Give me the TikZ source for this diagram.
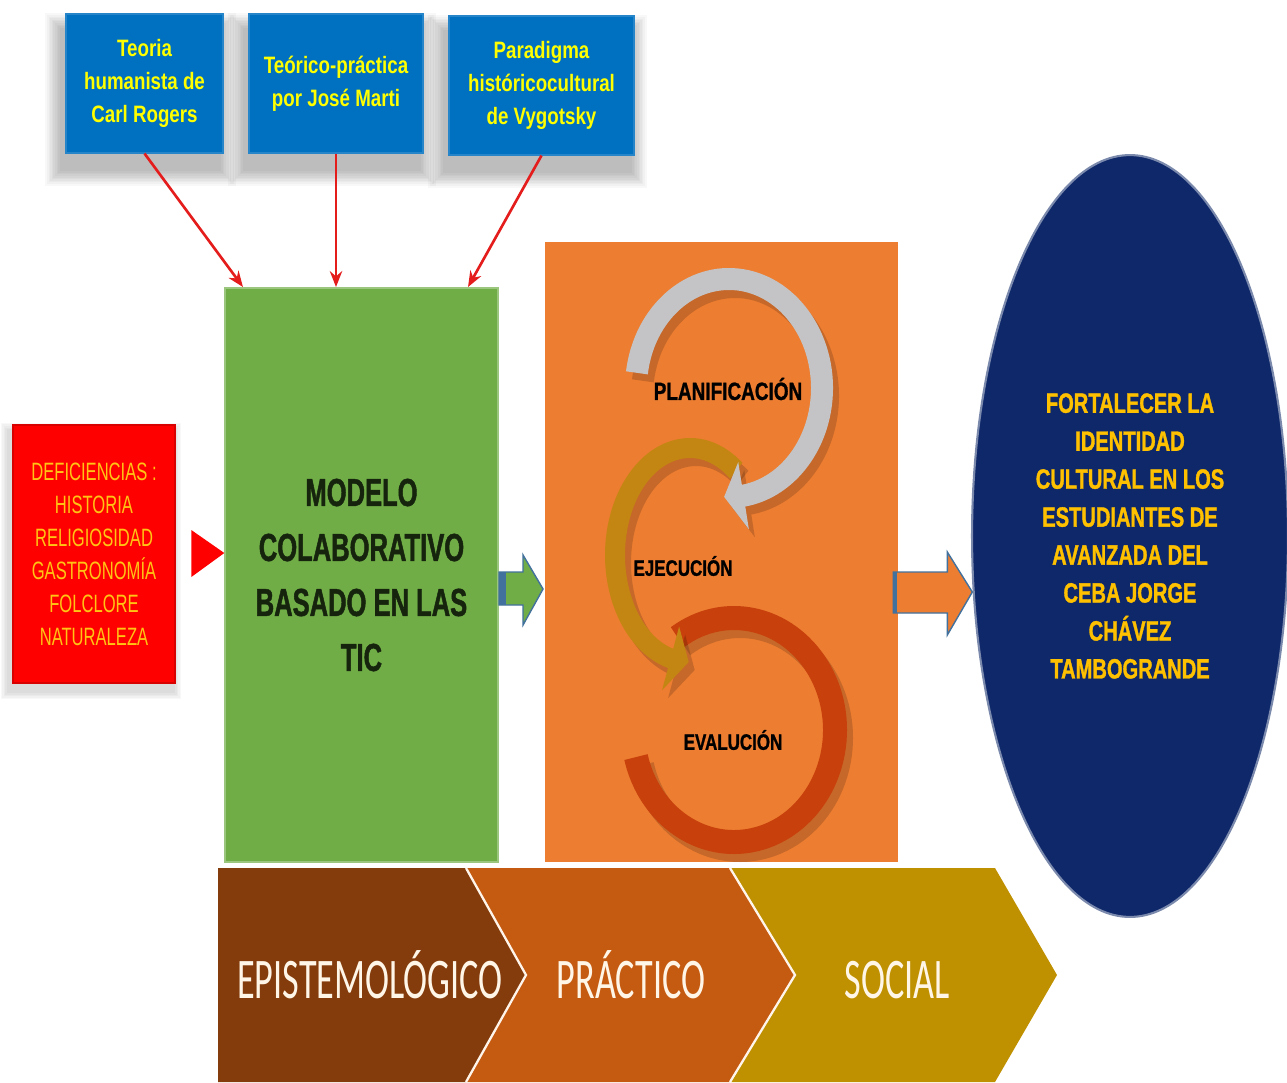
\documentclass[tikz,border=0pt]{standalone}
\usepackage{fontspec}
\setmainfont{Liberation Sans}
\newfontfamily\fBlue{Liberation Sans}[FakeStretch=0.79]
\newfontfamily\fRed{Liberation Sans}[FakeStretch=0.66]
\newfontfamily\fGreen{Liberation Sans}[FakeStretch=0.655,FakeBold=1.2]
\newfontfamily\fPanel{Liberation Sans}[FakeStretch=0.76,FakeBold=1]
\newfontfamily\fEll{Liberation Sans}[FakeStretch=0.72,FakeBold=1.2]
\newfontfamily\fChev{Carlito}[FakeStretch=0.63]
\usetikzlibrary{shapes.geometric,arrows.meta,calc,backgrounds}

\definecolor{bluebox}{RGB}{0,112,192}
\definecolor{txtyellow}{RGB}{255,255,0}
\definecolor{redbox}{RGB}{255,0,0}
\definecolor{redtxt}{RGB}{255,196,20}
\definecolor{greenbox}{RGB}{112,173,71}
\definecolor{greentxt}{RGB}{22,36,14}
\definecolor{orangebox}{RGB}{237,125,49}
\definecolor{ellnavy}{RGB}{14,40,105}
\definecolor{elltxt}{RGB}{255,192,0}
\definecolor{chevA}{RGB}{132,60,12}
\definecolor{chevB}{RGB}{197,90,17}
\definecolor{chevC}{RGB}{191,144,0}
\definecolor{arrowred}{RGB}{228,28,28}
\definecolor{outlineblue}{RGB}{65,113,156}
\definecolor{ringgray}{RGB}{196,196,198}
\definecolor{ringgold}{RGB}{196,134,18}
\definecolor{ringred}{RGB}{200,64,12}
\definecolor{chevtxt}{RGB}{255,246,232}

% curved block arrow centred at the origin of the current scope
% #1 rx, #2 ry, #3 half width, #4 start angle, #5 end angle, #6 head half width, #7 tip angle offset, #8 style
\newcommand\ringarrow[8]{%
 \fill[#8] ({(#1+#3)*cos(#4)},{(#2+#3)*sin(#4)})
   arc[start angle=#4,end angle=#5,x radius={#1+#3},y radius={#2+#3}]
   -- ({(#1+#6)*cos(#5)},{(#2+#6)*sin(#5)})
   -- ({#1*cos(#5+#7)},{#2*sin(#5+#7)})
   -- ({(#1-#6)*cos(#5)},{(#2-#6)*sin(#5)})
   -- ({(#1-#3)*cos(#5)},{(#2-#3)*sin(#5)})
   arc[start angle=#5,end angle=#4,x radius={#1-#3},y radius={#2-#3}]
   -- cycle;}

% soft shadow: #1 node, #2 x shift, #3 y shift (down), #4 number of layers
\newcommand\softshadow[4]{%
 \foreach \k in {1,...,#4}{%
  \fill[black,opacity=0.028] ($(#1.south west)+(#2-\k*1.6,#3+\k*1.6)$) rectangle ($(#1.north east)+(#2+\k*1.6,#3-\k*1.6)$);}}

\begin{document}
\begin{tikzpicture}[x=0.02cm,y=-0.02cm,
  topbox/.style={rectangle, fill=bluebox, draw=bluebox!85!white, line width=0.6pt,
     minimum height=2.78cm, inner sep=0pt, text=txtyellow, align=center,
     font=\fBlue\bfseries\fontsize{13.5}{19}\selectfont},
  defbox/.style={rectangle, fill=redbox, draw=redbox!85!black, line width=1.5pt,
     minimum width=3.24cm, minimum height=5.16cm, inner sep=0pt, text=redtxt, align=center,
     font=\fRed\fontsize{14.3}{18.8}\selectfont},
  modelbox/.style={rectangle, fill=greenbox, draw=greenbox!70!white, line width=1.2pt,
     minimum width=5.46cm, minimum height=11.48cm, inner sep=0pt, text=greentxt, align=center,
     font=\fGreen\bfseries\fontsize{22.2}{31.3}\selectfont},
  panelbox/.style={rectangle, fill=orangebox, draw=none,
     minimum width=7.06cm, minimum height=12.4cm, inner sep=0pt},
  phaselabel/.style={text=black, inner sep=0pt, font=\fPanel\bfseries\fontsize{12.7}{14}\selectfont},
  goalell/.style={ellipse, fill=ellnavy, draw=ellnavy!55!white, line width=1.2pt,
     minimum width=6.32cm, minimum height=15.24cm, inner sep=0pt, text=elltxt, align=center,
     font=\fEll\bfseries\fontsize{15.9}{21.6}\selectfont},
  chevlabel/.style={text=chevtxt, inner sep=0pt, font=\fChev\fontsize{32.7}{36}\selectfont},
  redarrow/.style={draw=arrowred, line width=1.5pt, -{Stealth[length=9pt,width=7pt]}},
  sep/.style={draw=white!92!orange, line width=1.3pt}]

\useasboundingbox (0,0) rectangle (1287,1082);

% ---------- top boxes ----------
\node[topbox, minimum width=3.14cm] (b1) at (144.5,83.5) {Teoria\\humanista de\\Carl Rogers};
\node[topbox, minimum width=3.48cm] (b2) at (336,83.5) {Teórico-práctica\\por José Marti};
\node[topbox, minimum width=3.70cm] (b3) at (541.5,85.5) {Paradigma\\históricocultural\\de Vygotsky};

% ---------- main boxes ----------
\node[defbox] (r) at (94,554) {DEFICIENCIAS :\\HISTORIA\\RELIGIOSIDAD\\GASTRONOMÍA\\FOLCLORE\\NATURALEZA};
\node[modelbox] (g) at (361.5,575) {MODELO\\COLABORATIVO\\BASADO EN LAS\\TIC};
\node[panelbox] (o) at (721.5,552) {};
\node[goalell] (e) at (1130,536) {FORTALECER LA\\IDENTIDAD\\CULTURAL EN LOS\\ESTUDIANTES DE\\AVANZADA DEL\\CEBA JORGE\\CHÁVEZ\\TAMBOGRANDE};

% ---------- cycle arrows inside the panel ----------
\begin{scope}[shift={(740,738)}]
  \ringarrow{101}{112}{12}{-124}{166}{12}{0}{black,opacity=0.16}
\end{scope}
\begin{scope}[shift={(734,730)}]
  \ringarrow{101}{112}{12}{-124}{166}{12}{0}{ringred}
\end{scope}
\begin{scope}[shift={(696,563)}]
  \ringarrow{75}{107}{10}{-52}{-255}{33}{-14}{black,opacity=0.16}
\end{scope}
\begin{scope}[shift={(690,555)}]
  \ringarrow{75}{107}{10}{-52}{-255}{33}{-14}{ringgold}
\end{scope}
\begin{scope}[shift={(735,396)}]
  \ringarrow{93}{109}{11}{188}{441}{34}{12}{black,opacity=0.16}
\end{scope}
\begin{scope}[shift={(729,388)}]
  \ringarrow{93}{109}{11}{188}{441}{34}{12}{ringgray}
\end{scope}

\node[phaselabel, font=\fPanel\bfseries\fontsize{14.2}{16}\selectfont] (pl) at (728,389) {PLANIFICACIÓN};
\node[phaselabel] (ej) at (683,566) {EJECUCIÓN};
\node[phaselabel] (ev) at (733,740) {EVALUCIÓN};

% ---------- connectors ----------
\draw[redarrow] (b1.south) -- ($(g.north west)+(19,0)$);
\draw[redarrow] (b2.south) -- (b2.south |- g.north);
\draw[redarrow] (b3.south) -- ($(g.north east)+(-31,0)$);

% red triangle from deficiencies to model
\fill[redbox] ($(r.east)+(15,-24)$) -- ($(r.east)+(48,-1)$) -- ($(r.east)+(15,23)$) -- cycle;

% green block arrow from model to panel
\begin{scope}[shift={(g.east)}]
  \filldraw[fill=greenbox, draw=outlineblue, line width=0.8pt]
    (0,-3) -- (24,-3) -- (24,-20) -- (44,14) -- (24,50) -- (24,30) -- (0,30) -- cycle;
  \fill[outlineblue] (0,-3) rectangle (7,30);
\end{scope}

% orange block arrow from panel to goal
\begin{scope}[shift={(o.east)}]
  \filldraw[fill=orangebox, draw=outlineblue, line width=0.8pt]
    (-5,20) -- (49,20) -- (49,0) -- (74,40) -- (49,83) -- (49,61) -- (-5,61) -- cycle;
  \fill[outlineblue] (-5,20) rectangle (-1,61);
\end{scope}

% ---------- chevrons ----------
\fill[chevA] (218,868) -- (466,868) -- (526,975) -- (466,1082) -- (218,1082) -- cycle;
\fill[chevB] (466,868) -- (730,868) -- (795,975) -- (730,1082) -- (466,1082) -- (526,975) -- cycle;
\fill[chevC] (731,868) -- (995,868) -- (1057,975) -- (995,1082) -- (731,1082) -- (795,975) -- cycle;
\draw[sep] (466,868) -- (526,975) -- (466,1082);
\draw[sep] (730,868) -- (795,975) -- (730,1082);
\node[chevlabel, anchor=base] (c1) at (370,998) {EPISTEMOLÓGICO};
\node[chevlabel, anchor=base] (c2) at (631,998) {PRÁCTICO};
\node[chevlabel, anchor=base] (c3) at (897,998) {SOCIAL};

% ---------- background and shadows ----------
\begin{scope}[on background layer]
  \fill[white] (0,0) rectangle (1287,1082);
  \softshadow{b1}{-4}{16}{10}
  \softshadow{b2}{-4}{16}{10}
  \softshadow{b3}{-4}{16}{10}
  \softshadow{r}{-3}{7}{5}
\end{scope}
\end{tikzpicture}
\end{document}
